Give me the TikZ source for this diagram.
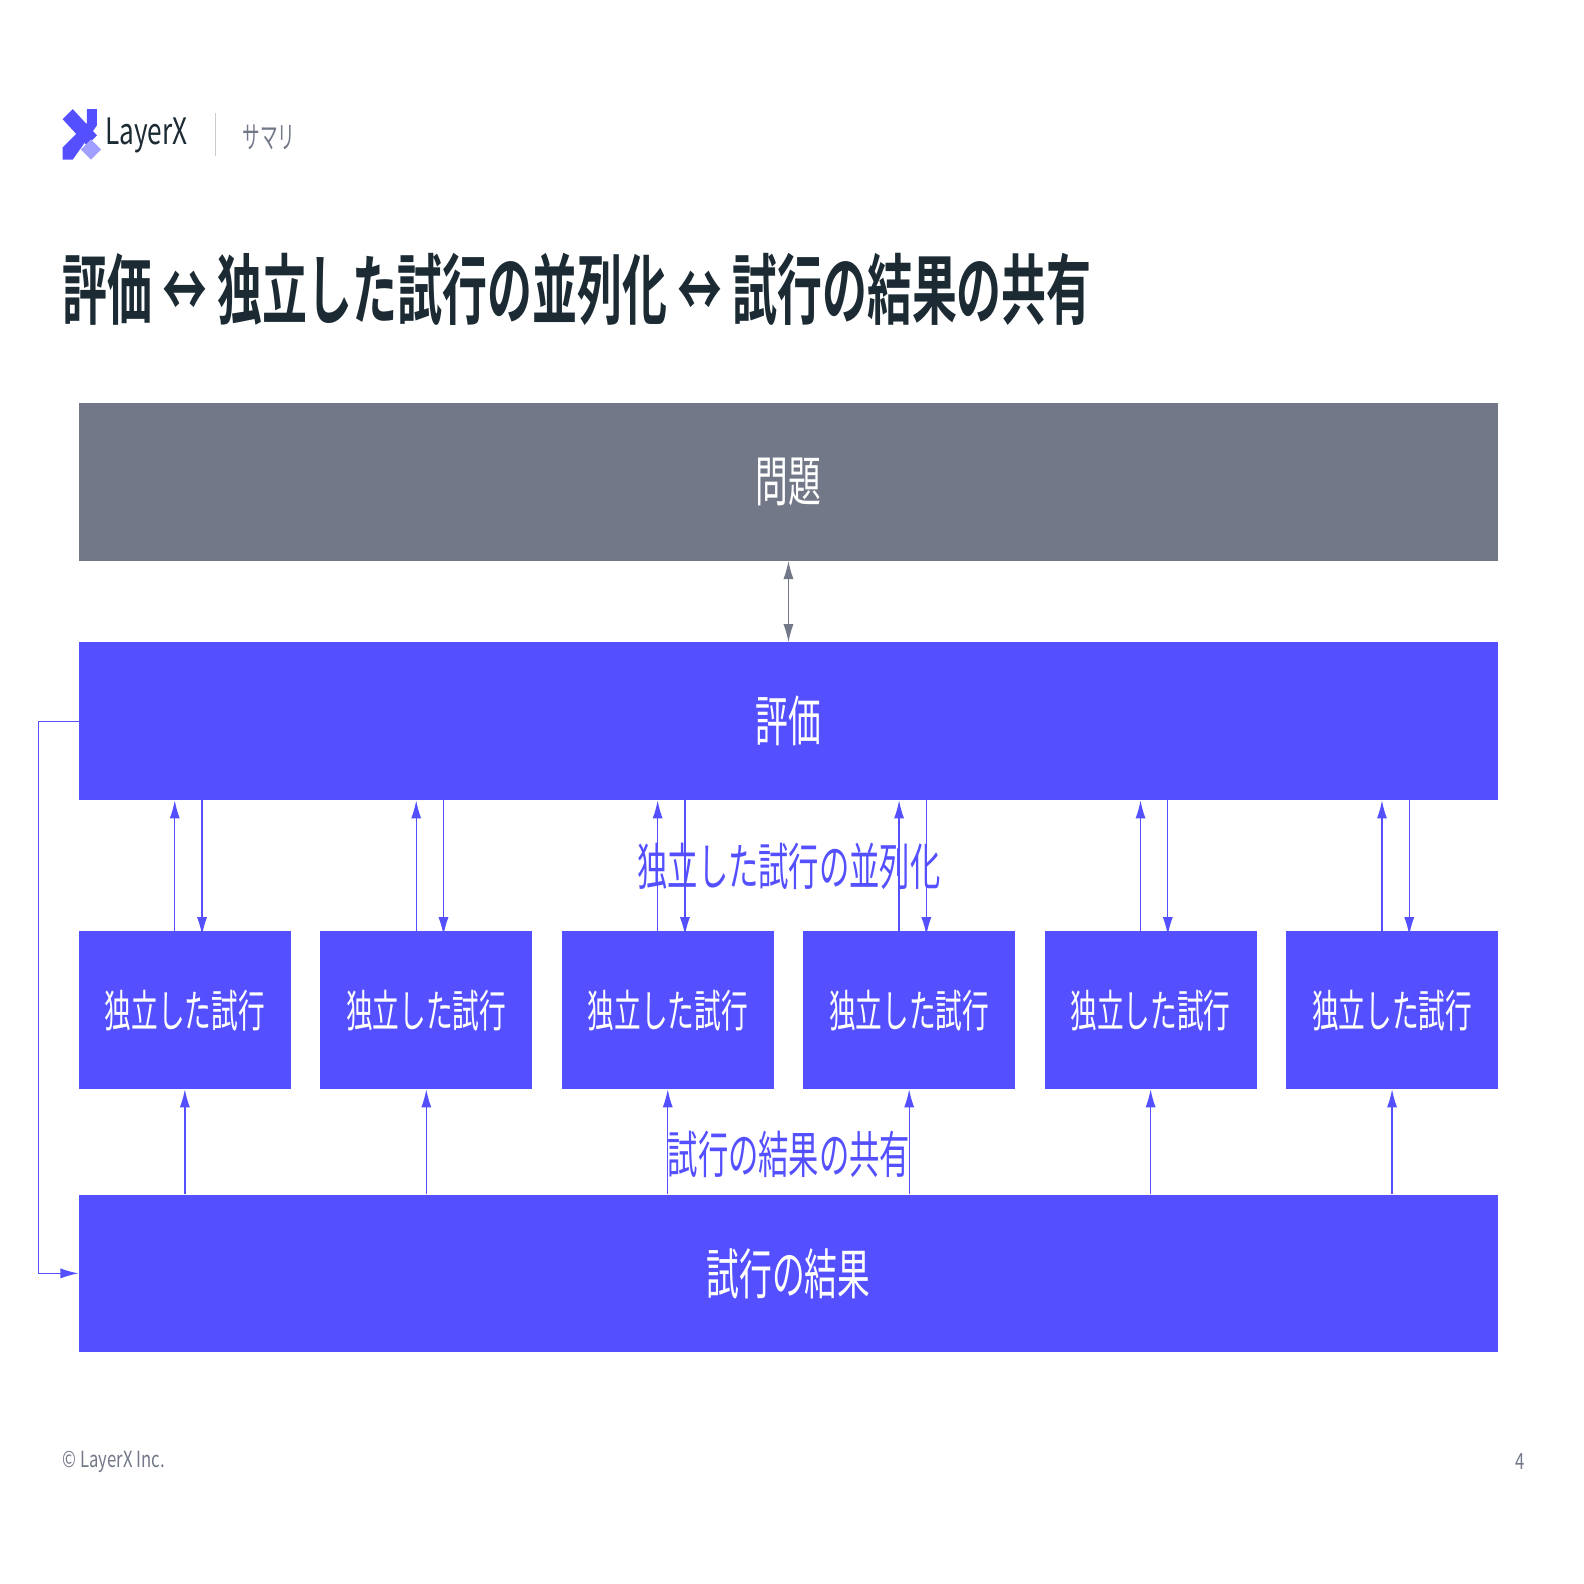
\documentclass[tikz,border=0pt]{standalone}
\usepackage{fontspec}
\setmainfont{Noto Sans CJK JP}
\newfontfamily\jpb{Noto Sans CJK JP Bold}
\usetikzlibrary{arrows.meta}
\definecolor{lxblue}{HTML}{5450FF}
\definecolor{lxgray}{HTML}{737889}
\definecolor{lxdark}{HTML}{1B2A33}
\newcommand{\cond}[1]{\scalebox{0.6}[1]{#1}}
\tikzset{
 bigbox/.style={fill=lxblue,draw=none,minimum width=1405pt,minimum height=156pt,inner sep=0,text=white,font=\fontsize{54}{54}\selectfont},
 trial/.style={fill=lxblue,draw=none,minimum width=210pt,minimum height=156pt,inner sep=0,text=white,font=\fontsize{44}{44}\selectfont},
 conn/.style={draw=lxblue,line width=1.3pt,-{Latex[length=18pt,width=10pt]}},
 lbl/.style={text=lxblue,font=\fontsize{50}{50}\selectfont,inner sep=0}
}
\begin{document}
\begin{tikzpicture}[x=1pt,y=-1pt]
\useasboundingbox[fill=white] (0,0) rectangle (1568,1568);
% logo
\fill[lxblue] (62,118) -- (72,108) -- (96,134) -- (86,144) -- cycle;
\fill[lxblue] (62,146) -- (86,122) -- (86,108) -- (96,108) -- (96,124) -- (72,158) -- (62,158) -- cycle;
\fill[lxblue!55] (90,138) -- (100,148) -- (90,158) -- (80,148) -- cycle;
\node[anchor=west,text=lxdark,font=\fontsize{36}{36}\selectfont,inner sep=0] (logo) at (104,134) {\scalebox{0.72}[1]{LayerX}};
\draw[gray!40,line width=1pt] (213,112) -- (213,154);
\node[anchor=west,text=lxgray,font=\fontsize{30}{30}\selectfont,inner sep=0] (sec) at (240,136) {\scalebox{0.58}[1]{サマリ}};
% title
\node[anchor=west,text=lxdark,font=\jpb\fontsize{76}{76}\selectfont,inner sep=0] (title) at (62,286) {\scalebox{0.585}[1]{評価 ↔ 独立した試行の並列化 ↔ 試行の結果の共有}};
% boxes
\node[bigbox,fill=lxgray] (prob) at (780.5,477) {\cond{問題}};
\node[bigbox] (eval) at (780.5,714) {\cond{評価}};
\node[bigbox] (res) at (780.5,1260.5) {\cond{試行の結果}};
\foreach \i/\x in {1/183,2/422,3/661,4/900,5/1139,6/1378}{
 \node[trial] (t\i) at (\x,1000) {\cond{独立した試行}};
 \draw[conn] ([xshift=-10pt,yshift=-4pt]t\i.north) -- ([xshift=-10pt]t\i.north |- eval.south);
 \draw[conn] ([xshift=17pt]t\i.north |- eval.south) -- ([xshift=17pt,yshift=-4pt]t\i.north);
 \draw[conn] (t\i.south |- res.north) -- (t\i.south);
}
\draw[draw=lxgray,line width=1.3pt,{Latex[length=18pt,width=10pt]}-{Latex[length=18pt,width=10pt]}] (prob.south) -- (eval.north);
\coordinate (lp1) at (38,714);
\coordinate (lp2) at (38,1260.5);
\draw[conn] (eval.west) -- (lp1) -- (lp2) -- (res.west);
\node[lbl] (l1) at (781,858) {\cond{独立した試行の並列化}};
\node[lbl] (l2) at (781,1143) {\cond{試行の結果の共有}};
% footer
\node[anchor=west,text=lxgray,font=\fontsize{22}{22}\selectfont,inner sep=0] (foot) at (62,1447) {\scalebox{0.75}[1]{© LayerX Inc.}};
\node[anchor=east,text=lxgray,font=\fontsize{22}{22}\selectfont,inner sep=0] (pg) at (1510,1447) {\scalebox{0.75}[1]{4}};
\end{tikzpicture}
\end{document}
